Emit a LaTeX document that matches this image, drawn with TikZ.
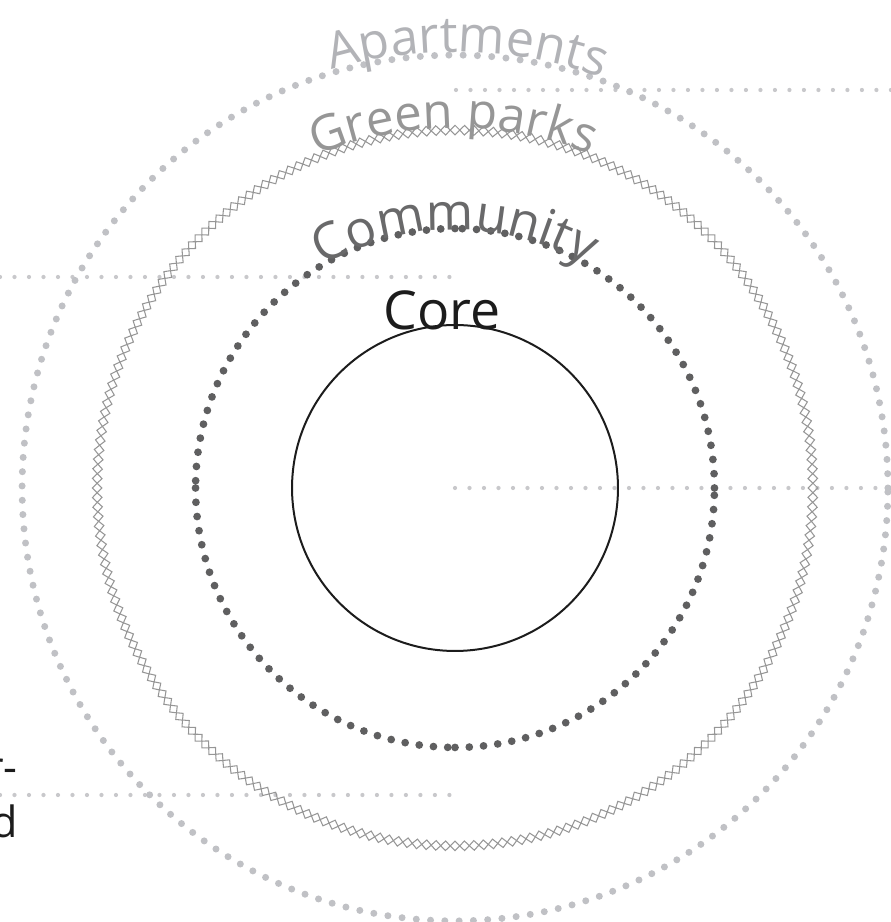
\documentclass[tikz,border=0pt]{standalone}
\usepackage{fontspec}
\setmainfont{Open Sans}
\usetikzlibrary{decorations.text}

\definecolor{aptgray}{RGB}{192,193,197}
\definecolor{apttext}{RGB}{178,179,183}
\definecolor{parkgray}{RGB}{150,150,150}
\definecolor{parktext}{RGB}{150,150,150}
\definecolor{commgray}{RGB}{95,95,96}
\definecolor{commtext}{RGB}{105,105,106}
\definecolor{leadgray}{RGB}{200,200,203}
\definecolor{coregray}{RGB}{28,28,28}

\tikzset{
	leader/.style={draw=leadgray, line width=0.085cm, line cap=round, dash pattern=on 0pt off 0.29cm},
	aptdots/.style={draw=aptgray, line width=0.14cm, line cap=round, dash pattern=on 0pt off 0.286cm},
	commdots/.style={draw=commgray, line width=0.155cm, line cap=round, dash pattern=on 0pt off 0.286cm},
	parkdiamond/.style={rectangle, draw=parkgray, line width=0.6pt, inner sep=0pt, minimum size=0.136cm},
	ringlabel/.style={decorate, decoration={text along path, text align=center, text={#1}}},
	sidelabel/.style={anchor=base east, inner sep=0pt, text=coregray, font=\fontsize{24.5}{30}\selectfont}
}

\begin{document}
\begin{tikzpicture}[x=0.02cm,y=0.02cm]
	\useasboundingbox (0,0) rectangle (891,922);
	\clip (0,0) rectangle (891,922);
	\coordinate (c) at (455,434);

	% leader lines
	\coordinate (l1a) at (456,832);
	\coordinate (l1b) at (891,832);
	\coordinate (l2a) at (0,645);
	\coordinate (l2b) at (455,645);
	\coordinate (l3b) at (891,434);
	\coordinate (l4a) at (0,127);
	\coordinate (l4b) at (455,127);
	\draw [leader] (l1a) -- (l1b);
	\draw [leader] (l2a) -- (l2b);
	\draw [leader] (c) -- (l3b);
	\draw [leader] (l4a) -- (l4b);

	% rings
	\draw [aptdots] (c) circle[radius=8.66cm];
	\foreach \i in {1,...,236} {
		\pgfmathsetmacro\ang{\i*(360/236)}
		\node [parkdiamond, rotate=\ang+45] (pd\i) at ([shift={(\ang:7.16cm)}]c) {};
	}
	\foreach \s in {0,90,180,270}
		\draw [commdots] ([shift={(\s:5.19cm)}]c) arc[start angle=\s, end angle=\s+90, radius=5.19cm];
	\draw [coregray, line width=0.04cm] (c) circle[radius=3.26cm];

	% ring names
	\path [ringlabel={|\color{apttext}\fontsize{28.5}{33}\selectfont|Apartments}]
		([shift={(118.4:8.72cm)}]c) arc[start angle=118.4, end angle=58.4, radius=8.72cm];
	\path [ringlabel={|\color{parktext}\fontsize{28}{33}\selectfont|Green parks}]
		([shift={(125.3:7.2cm)}]c) arc[start angle=125.3, end angle=55.3, radius=7.2cm];
	\path [ringlabel={|\color{commtext}\fontsize{29}{34}\selectfont|Community}]
		([shift={(135:5.16cm)}]c) arc[start angle=135, end angle=45, radius=5.16cm];
	\node (core) [anchor=base, text=coregray, font=\fontsize{30.5}{36}\selectfont] at (442,592) {Core};

	% cut labels on the left
	\node (side1) [sidelabel] at (18,139) {r-};
	\node (side2) [sidelabel] at (18,84) {d};
\end{tikzpicture}
\end{document}
